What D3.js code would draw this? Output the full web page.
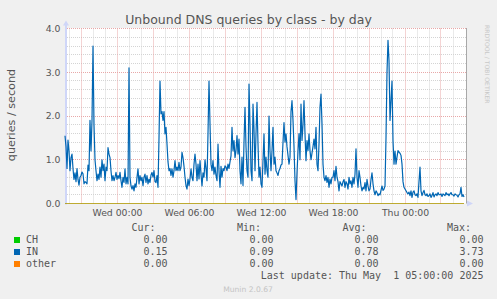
<!DOCTYPE html>
<html><head><meta charset="utf-8">
<script src="https://cdn.jsdelivr.net/npm/d3@7"></script>
<style>
body{margin:0;background:#f0f0f0;}
svg{display:block;}
</style>
</head><body>
<svg id="chart" width="497" height="299"></svg>
<script>
// ---------- data ----------
const chartTitle = "Unbound DNS queries by class - by day";
const yAxisLabel = "queries / second";
const startTime = new Date(2025, 3, 29, 19, 40); // Tue 19:40
const endTime = new Date(2025, 4, 1, 5, 0);      // Thu 05:00
const stepMinutes = 5;
const yTicks = [0, 1, 2, 3, 4];
const seriesNames = ["CH", "IN", "other"];
const seriesColors = ["#00cc00", "#0066b3", "#ff8000"];
const statHeaders = ["Cur:", "Min:", "Avg:", "Max:"];
const statsCH = ["0.00", "0.00", "0.00", "0.00"];
const statsIN = ["0.15", "0.09", "0.78", "3.73"];
const statsOther = ["0.00", "0.00", "0.00", "0.00"];
const lastUpdate = "Last update: Thu May  1 05:00:00 2025";
const footer = "Munin 2.0.67";
const sideText = "RRDTOOL / TOBI OETIKER";

const inValues = [
1.55,1.3,0.8,1.45,1.2,0.75,1.05,1.13,0.8,0.55,0.7,0.5,0.8,0.55,0.42,0.6,0.64,0.72,0.68,0.45,0.5,0.48,0.45,0.88,0.75,1.9,1.2,1.9,3.6,1.8,1.0,0.75,0.52,0.67,0.55,0.83,0.6,1.0,0.75,0.9,0.52,0.83,0.75,1.28,1.13,1.05,0.75,0.52,0.64,0.52,0.6,0.71,0.55,0.64,0.57,0.71,0.52,0.37,0.6,0.48,0.79,0.45,0.6,0.45,
3.1,0.6,0.4,0.33,0.41,0.29,0.45,0.37,0.6,0.79,0.45,0.64,0.52,0.6,0.41,0.6,0.67,0.48,0.64,0.45,0.56,0.48,0.65,0.71,0.6,0.75,0.5,0.48,0.64,0.37,1.5,2.8,2.05,2.1,1.9,2.1,1.59,1.74,1.36,0.95,0.75,0.8,0.64,0.79,0.6,0.75,0.98,0.75,0.83,0.75,0.94,0.75,0.83,1.17,1.05,0.85,0.6,0.41,0.33,0.56,0.41,0.56,0.79,0.6,0.52,0.9,1.13,0.9,
0.52,0.9,0.56,0.98,0.67,0.4,0.7,0.6,1.0,0.8,0.52,1.6,2.8,1.82,0.9,0.75,0.98,0.67,0.83,0.64,0.52,1.36,0.75,0.37,0.85,0.6,0.8,0.75,0.86,0.83,0.75,0.9,0.8,0.95,1.09,1.74,1.2,1.44,1.05,1.21,1.55,1.13,1.47,0.75,0.45,1.06,0.41,1.4,2.2,1.3,0.75,0.6,2.73,1.82,0.75,0.52,2.27,1.7,0.75,1.6,2.31,1.36,0.6,0.83,0.45,0.37,0.98,1.59,
0.67,1.06,0.75,0.6,2.0,1.2,0.75,1.2,1.74,0.9,1.06,0.75,0.7,0.64,0.75,0.8,0.88,0.9,1.4,1.85,1.4,1.59,1.3,1.1,0.9,1.06,2.1,2.35,1.9,1.3,0.52,0.09,0.7,1.2,1.6,1.0,2.27,1.44,1.8,2.35,1.59,0.98,1.44,1.21,1.59,1.21,1.0,1.15,1.3,1.47,1.25,1.74,0.9,0.75,1.36,2.2,2.5,1.82,0.9,0.6,0.52,0.64,0.48,0.6,0.37,0.56,0.45,0.6,
0.6,0.75,0.52,0.85,0.6,0.5,0.29,0.5,0.45,0.4,0.5,0.55,0.37,0.5,0.45,0.33,0.6,0.45,0.52,0.37,0.6,0.45,0.67,1.25,0.6,0.37,0.75,0.6,0.4,0.29,0.37,0.33,0.48,0.29,0.55,0.4,0.29,0.33,0.55,0.7,0.45,0.29,0.2,0.29,0.25,0.18,0.22,0.2,0.3,0.4,0.3,0.33,0.4,1.5,3.0,3.73,3.26,1.9,2.35,2.8,1.44,0.9,1.2,0.9,1.06,1.21,1.17,1.15,
1.1,0.9,0.5,0.37,0.33,0.29,0.25,0.22,0.26,0.18,0.29,0.14,0.26,0.29,0.2,0.18,0.22,0.14,0.5,0.83,0.29,0.18,0.25,0.3,0.2,0.18,0.22,0.16,0.18,0.22,0.14,0.18,0.25,0.15,0.2,0.22,0.18,0.25,0.2,0.2,0.22,0.16,0.22,0.2,0.18,0.25,0.2,0.22,0.18,0.22,0.25,0.2,0.2,0.17,0.22,0.2,0.19,0.15,0.2,0.22,0.37,0.16,0.2,0.15
];
const chValues = inValues.map(() => 0);
const otherValues = inValues.map(() => 0);

// ---------- layout ----------
const W = 497, H = 299;
const pLeft = 65, pRight = 465, pTop = 28.5, pBottom = 203.5;
const FONT = "'DejaVu Sans', sans-serif";
const MONO = "'DejaVu Sans Mono', monospace";
const textColor = "#555555";

const svg = d3.select("#chart");
svg.append("rect").attr("width", W).attr("height", H).attr("fill", "#f0f0f0");

const x = d3.scaleTime().domain([startTime, endTime]).range([pLeft, pRight]);
const y = d3.scaleLinear().domain([0, 4]).range([pBottom, pTop]);
const timeOf = i => new Date(startTime.getTime() + i * stepMinutes * 60000);
const crisp = v => Math.round(v - 0.5) + 0.5;

// canvas
svg.append("rect").attr("x", pLeft).attr("y", pTop - 0.5)
  .attr("width", pRight - pLeft + 1).attr("height", pBottom - pTop + 0.5).attr("fill", "#ffffff");

// grid
const g = svg.append("g");
const minorY = d3.range(0, 4.001, 0.2).filter(v => Math.abs(v - Math.round(v)) > 1e-6);
g.selectAll(".hm").data(minorY).enter().append("line")
  .attr("x1", pLeft).attr("x2", pRight + 1)
  .attr("y1", d => crisp(y(d))).attr("y2", d => crisp(y(d)))
  .attr("stroke", "#d4d4d4").attr("stroke-dasharray", "1,1");
const hours = d3.timeHour.range(startTime, endTime);
g.selectAll(".vm").data(hours.filter(d => d.getHours() % 3 !== 0)).enter().append("line")
  .attr("x1", d => crisp(x(d))).attr("x2", d => crisp(x(d)))
  .attr("y1", pTop).attr("y2", pBottom)
  .attr("stroke", "#d4d4d4").attr("stroke-dasharray", "1,1");
g.selectAll(".vM").data(hours.filter(d => d.getHours() % 3 === 0)).enter().append("line")
  .attr("x1", d => crisp(x(d))).attr("x2", d => crisp(x(d)))
  .attr("y1", pTop).attr("y2", pBottom)
  .attr("stroke", "#e8a8a8").attr("stroke-dasharray", "1,1");
g.selectAll(".hM").data(yTicks.filter(v => v > 0)).enter().append("line")
  .attr("x1", pLeft).attr("x2", pRight + 1)
  .attr("y1", d => crisp(y(d))).attr("y2", d => crisp(y(d)))
  .attr("stroke", "#e8a8a8").attr("stroke-dasharray", "1,1");

// right frame line
svg.append("line").attr("x1", pRight + 1.5).attr("x2", pRight + 1.5)
  .attr("y1", pTop - 0.5).attr("y2", pBottom).attr("stroke", "#a8a8a8");

// y axis (lavender) and arrows
svg.append("line").attr("x1", pLeft + 1).attr("x2", pLeft + 1)
  .attr("y1", pTop - 4).attr("y2", pBottom + 1).attr("stroke", "#cfd6f8").attr("stroke-width", 2);
svg.append("path").attr("d", `M${pLeft - 2},${pTop - 3} L${pLeft + 4},${pTop - 3} L${pLeft + 1},${pTop - 8} Z`).attr("fill", "#cfd6f8");
svg.append("path").attr("d", `M${pRight + 2},${pBottom - 3} L${pRight + 2},${pBottom + 3} L${pRight + 8},${pBottom} Z`).attr("fill", "#cfd6f8");

// series lines
const line = d3.line().x((d, i) => x(timeOf(i))).y(d => y(d));
const allSeries = [chValues, inValues, otherValues];
allSeries.forEach((vals, k) => {
  svg.append("path").datum(vals).attr("d", line)
    .attr("fill", "none").attr("stroke", seriesColors[k])
    .attr("stroke-width", k === 1 ? 1.2 : 1)
    .attr("stroke-opacity", k === 1 ? 1 : 0.55)
    .attr("stroke-linejoin", "round");
});

// y tick labels
svg.selectAll(".yt").data(yTicks).enter().append("text")
  .attr("x", 60.5).attr("y", d => y(d) + 3.3)
  .attr("text-anchor", "end").attr("font-family", FONT).attr("font-size", 9.3)
  .attr("fill", textColor).text(d => d.toFixed(1));

// x tick labels
const labelTimes = d3.timeHour.every(6).range(startTime, endTime);
const fmt = d3.timeFormat("%a %H:%M");
svg.selectAll(".xt").data(labelTimes).enter().append("text")
  .attr("x", d => x(d) + 0.5).attr("y", 215.5)
  .attr("text-anchor", "middle").attr("font-family", FONT).attr("font-size", 9.3)
  .attr("fill", textColor).text(d => fmt(d));

// title
svg.append("text").attr("x", 248.5).attr("y", 23.5).attr("text-anchor", "middle")
  .attr("font-family", FONT).attr("font-size", 12.5).attr("fill", textColor).text(chartTitle);

// y label
svg.append("text").attr("transform", "translate(14.5,115) rotate(-90)")
  .attr("text-anchor", "middle").attr("font-family", FONT).attr("font-size", 11.2)
  .attr("fill", textColor).text(yAxisLabel);

// side text
svg.append("text").attr("transform", "translate(485,25) rotate(90)")
  .attr("font-family", FONT).attr("font-size", 6.1).attr("fill", "#c8c8c8").text(sideText);

// legend
const headerX = [155.5, 261, 366.5, 471];
const valueX = [167.5, 273.5, 378.5, 483.5];
svg.selectAll(".hd").data(statHeaders).enter().append("text")
  .attr("x", (d, i) => headerX[i]).attr("y", 231)
  .attr("text-anchor", "end").attr("font-family", MONO).attr("font-size", 10)
  .attr("fill", textColor).text(d => d);
const allStats = [statsCH, statsIN, statsOther];
seriesNames.forEach((name, k) => {
  const by = 243.3 + k * 12;
  svg.append("rect").attr("x", 14).attr("y", by - 6.3).attr("width", 6).attr("height", 6)
    .attr("fill", seriesColors[k]);
  svg.append("text").attr("x", 26).attr("y", by).attr("font-family", MONO).attr("font-size", 10)
    .attr("fill", textColor).text(name);
  svg.selectAll(".sv" + k).data(allStats[k]).enter().append("text")
    .attr("x", (d, i) => valueX[i]).attr("y", by)
    .attr("text-anchor", "end").attr("font-family", MONO).attr("font-size", 10)
    .attr("fill", textColor).text(d => d);
});
svg.append("text").attr("x", 483.5).attr("y", 279).attr("text-anchor", "end")
  .attr("font-family", MONO).attr("font-size", 10).attr("fill", textColor)
  .attr("xml:space", "preserve").style("white-space", "pre").text(lastUpdate);
svg.append("text").attr("x", 248).attr("y", 291.5).attr("text-anchor", "middle")
  .attr("font-family", FONT).attr("font-size", 7.6).attr("fill", "#c4c4c4").text(footer);
</script>
</body></html>
